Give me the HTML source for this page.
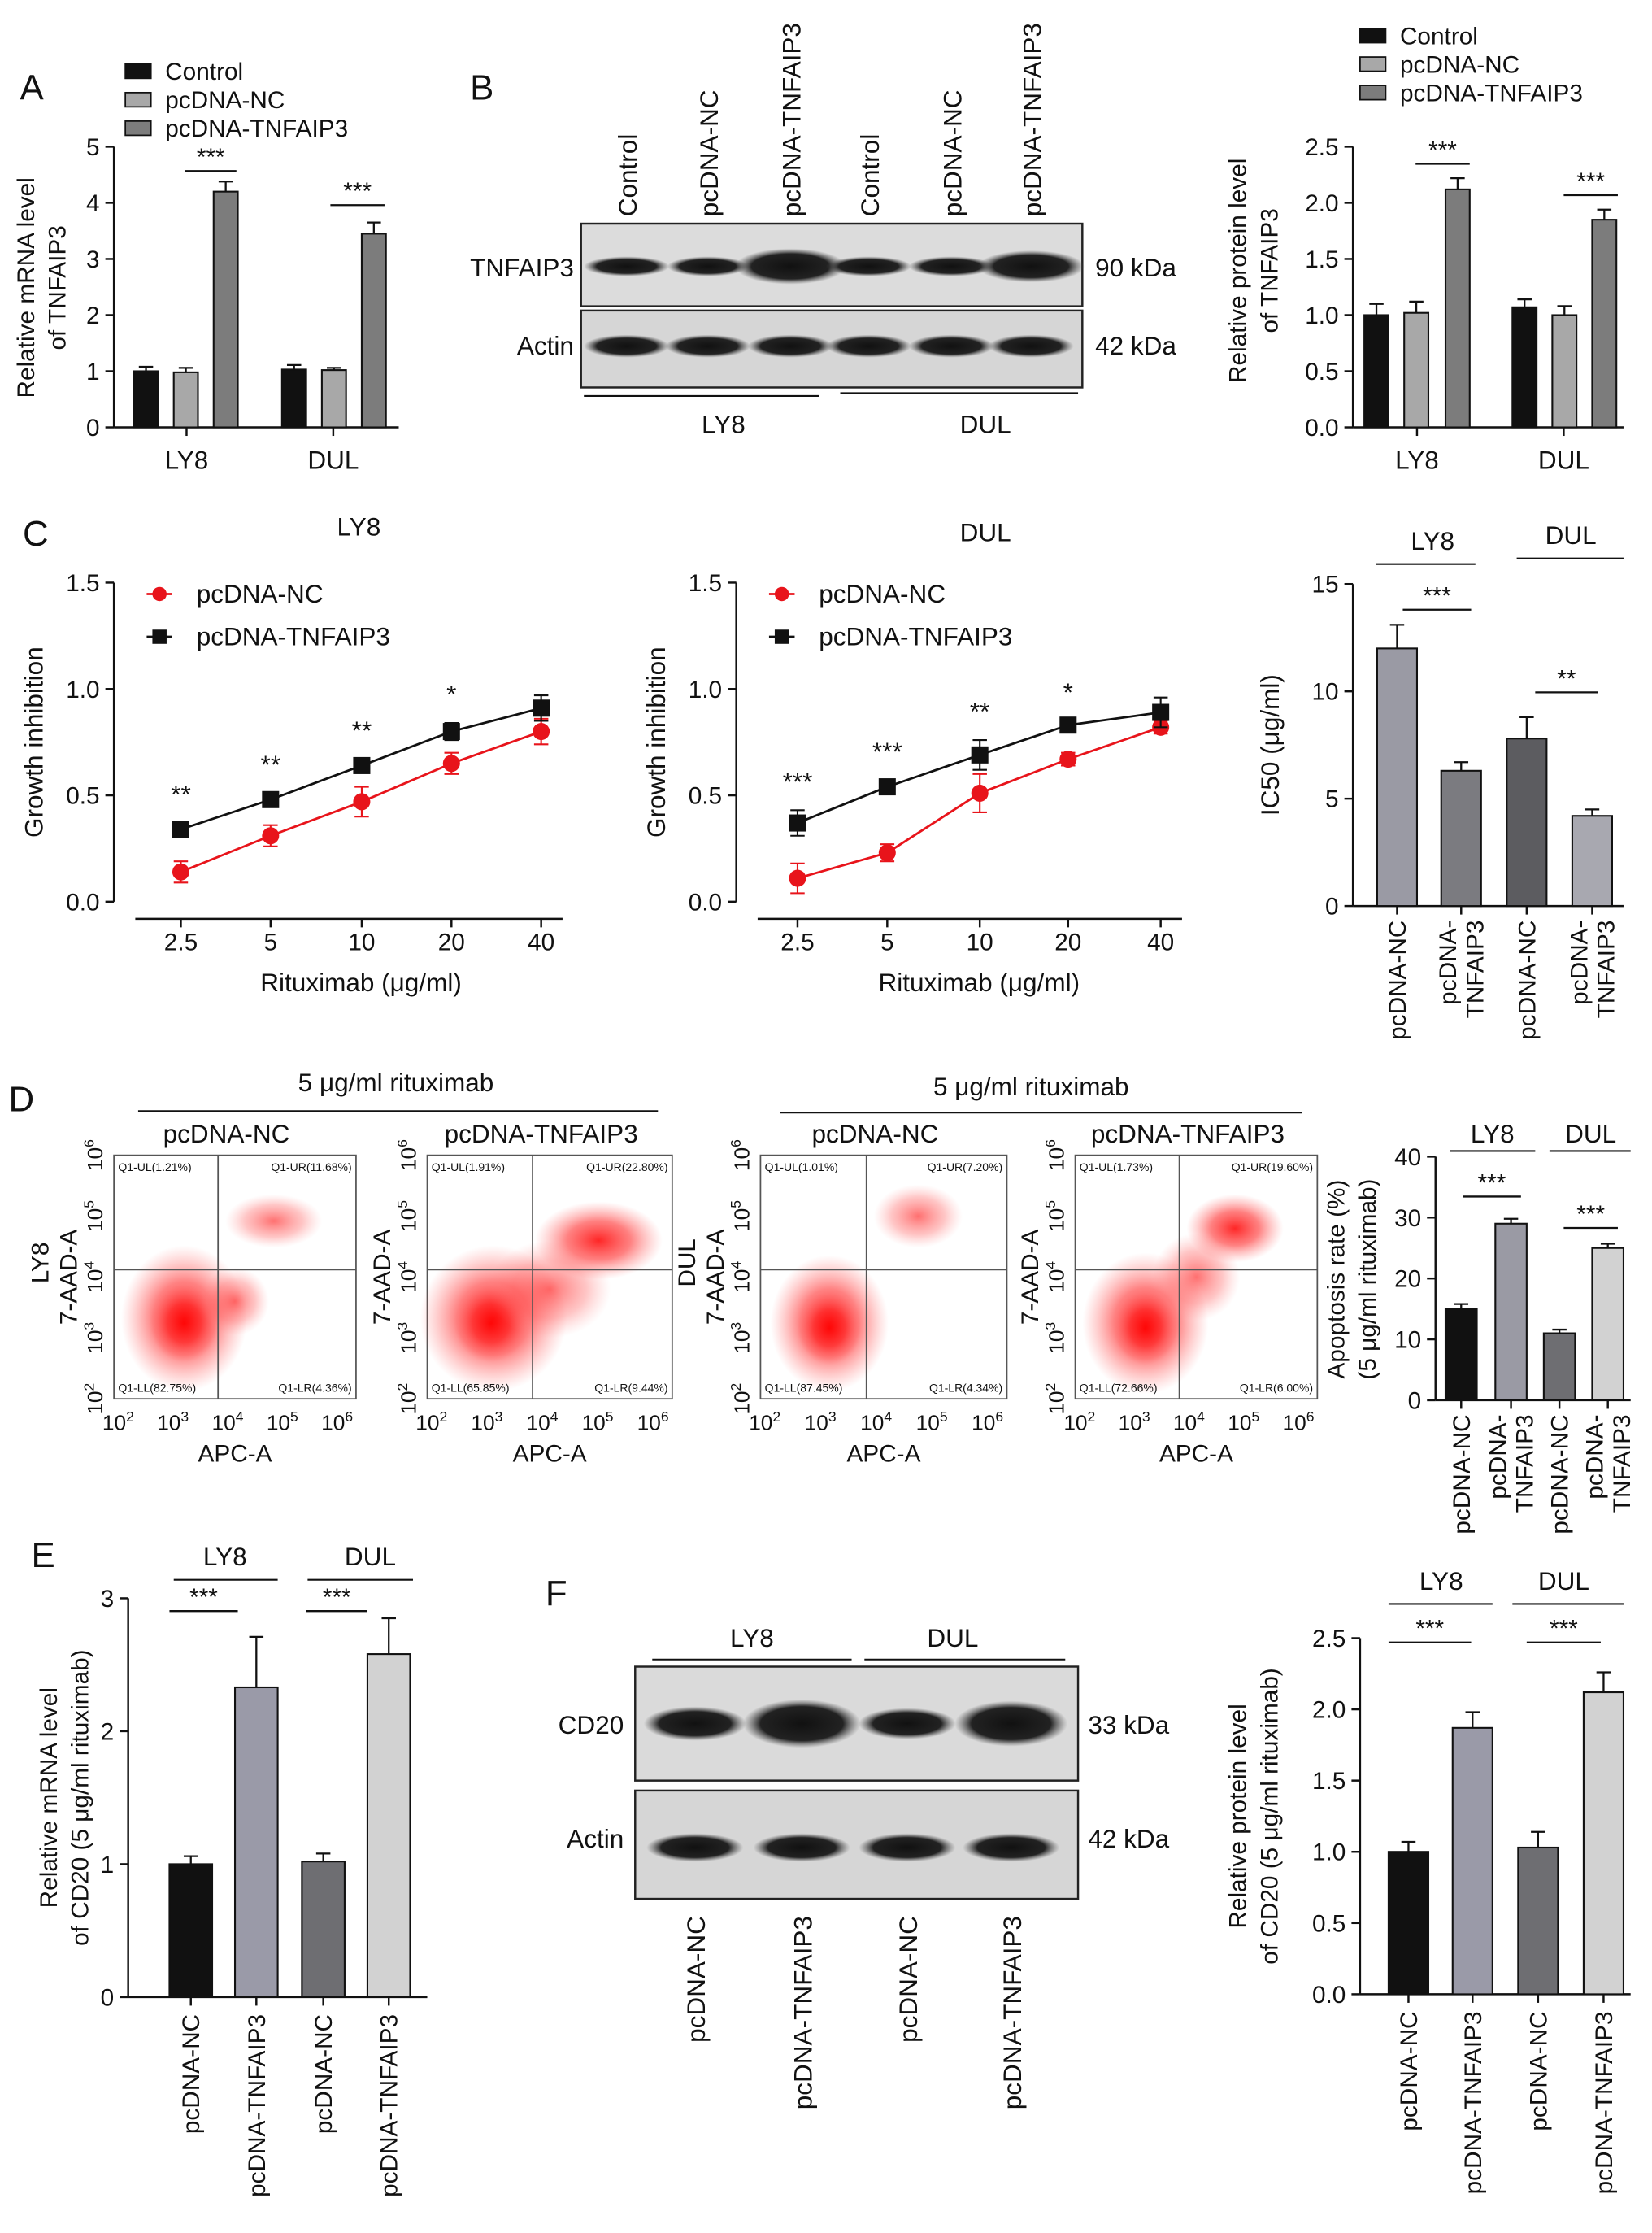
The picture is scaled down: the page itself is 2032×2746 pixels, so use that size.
<!DOCTYPE html>
<html><head><meta charset="utf-8"><style>
html,body{margin:0;padding:0;background:#fff}
svg{display:block;font-family:"Liberation Sans",sans-serif}
</style></head><body>
<svg id="fig" xmlns="http://www.w3.org/2000/svg" width="2032" height="2746" viewBox="0 0 1160 1567.6">
<defs>
<radialGradient id="rg" cx="0.5" cy="0.5" r="0.5"><stop offset="0" stop-color="#ff0000" stop-opacity="0.85"/><stop offset="0.5" stop-color="#ff1a1a" stop-opacity="0.55"/><stop offset="1" stop-color="#ff6060" stop-opacity="0"/></radialGradient>
<radialGradient id="rg2" cx="0.5" cy="0.5" r="0.5"><stop offset="0" stop-color="#ff1010" stop-opacity="0.6"/><stop offset="0.6" stop-color="#ff4040" stop-opacity="0.3"/><stop offset="1" stop-color="#ff8080" stop-opacity="0"/></radialGradient>
<radialGradient id="band" cx="0.5" cy="0.5" r="0.5"><stop offset="0" stop-color="#111"/><stop offset="0.7" stop-color="#222"/><stop offset="1" stop-color="#555" stop-opacity="0"/></radialGradient>
</defs>
</svg>
<script>
// ---- data ----
const aCats=['LY8','DUL'];
const aSeries=['Control','pcDNA-NC','pcDNA-TNFAIP3'];
const aVals=[1.0,0.98,4.2,1.03,1.02,3.45];
const aErr=[0.08,0.08,0.18,0.08,0.04,0.2];
const aTicks=[0,1,2,3,4,5];
const bVals=[1.0,1.02,2.12,1.07,1.0,1.85];
const bErr=[0.1,0.1,0.1,0.07,0.08,0.09];
const bTicks=[0,0.5,1.0,1.5,2.0,2.5];
const cDoses=['2.5','5','10','20','40'];
const cLy8NC=[0.14,0.31,0.47,0.65,0.80];
const cLy8NCerr=[0.05,0.05,0.07,0.05,0.06];
const cLy8TN=[0.34,0.48,0.64,0.80,0.91];
const cLy8TNerr=[0.03,0.03,0.03,0.04,0.06];
const cLy8Sig=['**','**','**','*',''];
const cDulNC=[0.11,0.23,0.51,0.67,0.82];
const cDulNCerr=[0.07,0.04,0.09,0.03,0.03];
const cDulTN=[0.37,0.54,0.69,0.83,0.89];
const cDulTNerr=[0.06,0.03,0.07,0.02,0.07];
const cDulSig=['***','***','**','*',''];
const cTicks=[0,0.5,1.0,1.5];
const icVals=[12.0,6.3,7.8,4.2];
const icErr=[1.1,0.4,1.0,0.3];
const icTicks=[0,5,10,15];
const dVals=[15,29,11,25];
const dErr=[0.8,0.8,0.6,0.7];
const dTicks=[0,10,20,30,40];
const dQuads=[['1.21%','11.68%','82.75%','4.36%'],['1.91%','22.80%','65.85%','9.44%'],['1.01%','7.20%','87.45%','4.34%'],['1.73%','19.60%','72.66%','6.00%']];
const eVals=[1.0,2.33,1.02,2.58];
const eErr=[0.06,0.38,0.06,0.27];
const eTicks=[0,1,2,3];
const fVals=[1.0,1.87,1.03,2.12];
const fErr=[0.07,0.11,0.11,0.14];
const fTicks=[0,0.5,1.0,1.5,2.0,2.5];

// ---- helpers ----
const NS='http://www.w3.org/2000/svg';
const S=document.getElementById('fig');
function E(tag,at,name,par){
 const el=document.createElementNS(NS,tag);
 for(const k in at)el.setAttribute(k,at[k]);
 
 
 (par||S).appendChild(el);return el;}
function T(x,y,txt,size,name,anchor,rot,extra){
 const at={x:x,y:y,'font-size':size,'text-anchor':anchor||'middle',fill:'#111'};
 if(rot)at.transform='rotate('+rot+' '+x+' '+y+')';
 Object.assign(at,extra||{});
 const el=E('text',at,name);el.textContent=txt;return el;}
function L(x1,y1,x2,y2,name,w,c){return E('line',{x1:x1,y1:y1,x2:x2,y2:y2,stroke:c||'#111','stroke-width':w||1.4},name);}
function fmt(v,d){return d?v.toFixed(d):String(v);}
function yAxis(ax,y0,yTop,max,ticks,dec,name){
 L(ax,y0,ax,yTop,name+'-y-axis');
 ticks.forEach(t=>{const y=y0-(t/max)*(y0-yTop);L(ax-6,y,ax,y,name+'-y-tick');T(ax-10,y+6,fmt(t,dec),17,name+'-y-tick-label','end');});
 return v=>y0-(v/max)*(y0-yTop);}
function errBar(x,yv,ye,name){L(x,yv,x,ye,name+'-error-bar',1.3);L(x-5,ye,x+5,ye,name+'-error-cap',1.3);}
function bar(x,w,y0,sy,v,e,fill,name){
 E('rect',{x:x,y:sy(v),width:w,height:y0-sy(v),fill:fill,stroke:'#111','stroke-width':1.2},name);
 errBar(x+w/2,sy(v),sy(v+e),name);}
function sig(x1,x2,y,txt,name){L(x1,y,x2,y,name+'-line',1.3);T((x1+x2)/2,y-4,txt,17,name+'-stars');}
function letter(x,y,t){T(x,y,t,25,'panel-label-'+t.toLowerCase(),'start');}
function legendSq(x,y,fill,txt,name){E('rect',{x:x,y:y-11,width:18,height:10,fill:fill,stroke:'#111','stroke-width':1},name+'-swatch');T(x+28,y,txt,17,name,'start');}
function rotLabel(x,y,lines,name){lines.forEach((s,i)=>T(x+6+(i-(lines.length-1)/2)*19,y,s,17,name,'end',-90));}

// ---- Panel A ----
letter(14,70,'A');
(function(){const y0=300,top=103,ax=80;const sy=yAxis(ax,y0,top,5,aTicks,0,'panel-a');
 L(ax,y0,280,y0,'panel-a-x-axis');
 const cols=['#111','#a8a8a8','#7c7c7c'];const xs=[94,122,150,198,226,254];
 aVals.forEach((v,i)=>bar(xs[i],17,y0,sy,v,aErr[i],cols[i%3],'panel-a-bar-'+aCats[Math.floor(i/3)].toLowerCase()+'-'+(i%3)));
 aCats.forEach((c,i)=>{const cx=[131,234][i];L(cx,y0,cx,y0+6,'panel-a-x-tick');T(cx,y0+29,c,18,'panel-a-x-label');});
 sig(130,166,120,'***','panel-a-sig-ly8');sig(232,270,144,'***','panel-a-sig-dul');
 aSeries.forEach((s,i)=>legendSq(88,56+i*20,cols[i],s,'panel-a-legend-entry'));
 T(24,202,'Relative mRNA level',17,'panel-a-y-title','middle',-90);T(46,202,'of TNFAIP3',17,'panel-a-y-title','middle',-90);
})();

// ---- Panel B blot ----
letter(330,70,'B');
(function(){
 const lanes=[440,497,555,610,668,724],lab=['Control','pcDNA-NC','pcDNA-TNFAIP3','Control','pcDNA-NC','pcDNA-TNFAIP3'];
 lanes.forEach((x,i)=>T(x+7,152,lab[i],18,'panel-b-lane-label','start',-90));
 E('rect',{x:408,y:157,width:352,height:58,fill:'#dcdcdc',stroke:'#222','stroke-width':1.4},'panel-b-tnfaip3-blot');
 E('rect',{x:408,y:218,width:352,height:54,fill:'#d6d6d6',stroke:'#222','stroke-width':1.4},'panel-b-actin-blot');
 const tw=[1,0.95,1.3,1,1,1.25],th=[1,1,1.8,1,1,1.6];
 lanes.forEach((x,i)=>{E('ellipse',{cx:x,cy:187,rx:30*tw[i],ry:7*th[i],fill:'url(#band)'},'panel-b-tnfaip3-band');E('ellipse',{cx:x,cy:243,rx:30,ry:8,fill:'url(#band)'},'panel-b-actin-band');});
 T(403,194,'TNFAIP3',18,'panel-b-tnfaip3-label','end');T(403,249,'Actin',18,'panel-b-actin-label','end');
 T(769,194,'90 kDa',18,'panel-b-90kda','start');T(769,249,'42 kDa',18,'panel-b-42kda','start');
 L(410,278,575,278,'panel-b-ly8-line',1.2);L(590,276,757,276,'panel-b-dul-line',1.2);
 T(508,304,'LY8',18,'panel-b-ly8-label');T(692,304,'DUL',18,'panel-b-dul-label');
})();
(function(){const y0=300,top=103,ax=950;const sy=yAxis(ax,y0,top,2.5,bTicks,1,'panel-b');
 L(ax,y0,1140,y0,'panel-b-x-axis');
 const cols=['#111','#a8a8a8','#7c7c7c'];const xs=[958,986,1015,1062,1090,1118];
 bVals.forEach((v,i)=>bar(xs[i],17,y0,sy,v,bErr[i],cols[i%3],'panel-b-bar-'+i));
 aCats.forEach((c,i)=>{const cx=[995,1098][i];L(cx,y0,cx,y0+6,'panel-b-x-tick');T(cx,y0+29,c,18,'panel-b-x-label');});
 sig(994,1032,115,'***','panel-b-sig-ly8');sig(1098,1136,137,'***','panel-b-sig-dul');
 aSeries.forEach((s,i)=>legendSq(955,31+i*20,cols[i],s,'panel-b-legend-entry'));
 T(875,190,'Relative protein level',17,'panel-b-y-title','middle',-90);T(897,190,'of TNFAIP3',17,'panel-b-y-title','middle',-90);
})();

// ---- Panel C line charts ----
letter(16,383,'C');
function lineChart(ax,xs,nc,ncE,tn,tnE,sigs,title,tx,ty,name){
 const y0=633,top=409;const sy=yAxis(ax,y0,top,1.5,cTicks,1,name);
 L(ax+15,645,xs[4]+15,645,name+'-x-axis');
 cDoses.forEach((d,i)=>{L(xs[i],645,xs[i],651,name+'-x-tick');T(xs[i],667,d,17,name+'-x-tick-label');});
 T((xs[0]+xs[4])/2,696,'Rituximab (μg/ml)',18,name+'-x-title');
 T(ax-50,521,'Growth inhibition',18,name+'-y-title','middle',-90);
 T(tx,ty,title,18,name+'-title');
 [[nc,ncE,'#e8141b','circle'],[tn,tnE,'#111','square']].forEach(([vals,err,c,shape],si)=>{
  const pts=vals.map((v,i)=>xs[i]+','+sy(v)).join(' ');
  E('polyline',{points:pts,fill:'none',stroke:c,'stroke-width':1.6},name+'-series-line-'+si);
  vals.forEach((v,i)=>{L(xs[i],sy(v-err[i]),xs[i],sy(v+err[i]),name+'-error-bar',1.2,c);
   L(xs[i]-5,sy(v+err[i]),xs[i]+5,sy(v+err[i]),name+'-error-cap',1.2,c);L(xs[i]-5,sy(v-err[i]),xs[i]+5,sy(v-err[i]),name+'-error-cap',1.2,c);
   if(shape==='circle')E('circle',{cx:xs[i],cy:sy(v),r:6,fill:c},name+'-point-nc');
   else E('rect',{x:xs[i]-6,y:sy(v)-6,width:12,height:12,fill:c},name+'-point-tnfaip3');});
 });
 sigs.forEach((s,i)=>{if(s)T(xs[i],sy(Math.max(tn[i]+tnE[i],nc[i]))-14,s,18,name+'-sig-stars');});
 const lx=ax+23;
 L(lx,417,lx+18,417,name+'-legend-line',1.6,'#e8141b');E('circle',{cx:lx+9,cy:417,r:5,fill:'#e8141b'},name+'-legend-marker');T(lx+35,423,'pcDNA-NC',18,name+'-legend-entry','start');
 L(lx,447,lx+18,447,name+'-legend-line',1.6,'#111');E('rect',{x:lx+4,y:442,width:10,height:10,fill:'#111'},name+'-legend-marker');T(lx+35,453,'pcDNA-TNFAIP3',18,name+'-legend-entry','start');
}
lineChart(80,[127,190,254,317,380],cLy8NC,cLy8NCerr,cLy8TN,cLy8TNerr,cLy8Sig,'LY8',252,376,'panel-c-ly8');
lineChart(517,[560,623,688,750,815],cDulNC,cDulNCerr,cDulTN,cDulTNerr,cDulSig,'DUL',692,380,'panel-c-dul');
(function(){const y0=636,top=410,ax=950;const sy=yAxis(ax,y0,top,15,icTicks,0,'panel-c-ic50');
 L(ax,y0,1140,y0,'panel-c-ic50-x-axis');
 const xs=[967,1012,1058,1104],cols=['#9a9aa4','#7b7b80','#5c5c60','#a8a8b0'];
 icVals.forEach((v,i)=>bar(xs[i],28,y0,sy,v,icErr[i],cols[i],'panel-c-ic50-bar-'+i));
 const labs=[['pcDNA-NC'],['pcDNA-','TNFAIP3'],['pcDNA-NC'],['pcDNA-','TNFAIP3']];
 xs.forEach((x,i)=>{L(x+14,y0,x+14,y0+6,'panel-c-ic50-x-tick');rotLabel(x+14,y0+10,labs[i],'panel-c-ic50-x-label');});
 T(1006,386,'LY8',18,'panel-c-ic50-ly8-label');L(966,396,1036,396,'panel-c-ic50-ly8-line',1.2);
 T(1103,382,'DUL',18,'panel-c-ic50-dul-label');L(1065,392,1140,392,'panel-c-ic50-dul-line',1.2);
 sig(985,1033,428,'***','panel-c-ic50-sig-ly8');sig(1078,1122,486,'**','panel-c-ic50-sig-dul');
 T(898,523,'IC50 (μg/ml)',18,'panel-c-ic50-y-title','middle',-90);
})();

// ---- Panel D flow ----
letter(6,780,'D');
T(278,766,'5 μg/ml rituximab',18,'panel-d-ly8-title');L(97,780,462,780,'panel-d-ly8-line',1.3);
T(724,769,'5 μg/ml rituximab',18,'panel-d-dul-title');L(548,781,914,781,'panel-d-dul-line',1.3);
function flow(x0,w,q,title,cell,clouds,name){
 const y0=811,h=171;
 T(x0+w/2-6,802,title,18,name+'-title');
 E('rect',{x:x0,y:y0,width:w,height:h,fill:'#fff',stroke:'#555','stroke-width':1},name+'-box');
 clouds.forEach(c=>E('ellipse',{cx:x0+c[0]*w,cy:y0+c[1]*h,rx:c[2]*w,ry:c[3]*h,fill:c[4]?'url(#rg2)':'url(#rg)'},name+'-cell-cloud'));
 const qx=x0+0.43*w,qy=y0+0.47*h;
 L(qx,y0,qx,y0+h,name+'-gate-v',1,'#555');L(x0,qy,x0+w,qy,name+'-gate-h',1,'#555');
 T(x0+3,y0+11,'Q1-UL('+q[0]+')',8,name+'-q-ul','start');T(x0+w-3,y0+11,'Q1-UR('+q[1]+')',8,name+'-q-ur','end');
 T(x0+3,y0+h-5,'Q1-LL('+q[2]+')',8,name+'-q-ll','start');T(x0+w-3,y0+h-5,'Q1-LR('+q[3]+')',8,name+'-q-lr','end');
 for(let i=0;i<5;i++){const x=x0+3+i*0.226*w;const t=T(x,y0+h+22,'10',15,name+'-x-tick-label');const s=document.createElementNS(NS,'tspan');s.setAttribute('dy','-6');s.setAttribute('font-size','10');s.textContent=String(i+2);t.appendChild(s);
  const y=y0+h-i*h/4;const t2=T(x0-8,y,'10',15,name+'-y-tick-label','middle',-90);const s2=document.createElementNS(NS,'tspan');s2.setAttribute('dy','-6');s2.setAttribute('font-size','10');s2.textContent=String(i+2);t2.appendChild(s2);}
 T(x0+w/2,y0+h+44,'APC-A',17,name+'-x-title');
 T(x0-26,y0+h/2,'7-AAD-A',17,name+'-y-title','middle',-90);
 if(cell)T(x0-46,y0+h/2-10,cell,17,name+'-cell-label','middle',-90);
}
flow(80,170,dQuads[0],'pcDNA-NC','LY8',[[0.29,0.67,0.26,0.3],[0.29,0.69,0.14,0.16],[0.66,0.27,0.2,0.11,1],[0.5,0.6,0.14,0.14,1]],'panel-d-ly8-nc');
flow(300,172,dQuads[1],'pcDNA-TNFAIP3',null,[[0.27,0.67,0.3,0.3],[0.26,0.69,0.15,0.16],[0.7,0.35,0.26,0.16],[0.5,0.55,0.25,0.2,1]],'panel-d-ly8-tn');
flow(534,173,dQuads[2],'pcDNA-NC','DUL',[[0.28,0.69,0.24,0.28],[0.28,0.71,0.13,0.15],[0.64,0.25,0.18,0.13,1]],'panel-d-dul-nc');
flow(755,170,dQuads[3],'pcDNA-TNFAIP3',null,[[0.29,0.69,0.26,0.29],[0.29,0.71,0.13,0.15],[0.66,0.3,0.2,0.14],[0.5,0.5,0.18,0.18,1]],'panel-d-dul-tn');
(function(){const y0=983,top=812,ax=1008;const sy=yAxis(ax,y0,top,40,dTicks,0,'panel-d-apoptosis');
 L(ax,y0,1145,y0,'panel-d-apoptosis-x-axis');
 const xs=[1015,1050,1084,1118],cols=['#111','#9a9aa4','#6e6e72','#d2d2d2'];
 dVals.forEach((v,i)=>bar(xs[i],22,y0,sy,v,dErr[i],cols[i],'panel-d-apoptosis-bar-'+i));
 const labs=[['pcDNA-NC'],['pcDNA-','TNFAIP3'],['pcDNA-NC'],['pcDNA-','TNFAIP3']];
 xs.forEach((x,i)=>{L(x+11,y0,x+11,y0+6,'panel-d-apoptosis-x-tick');rotLabel(x+11,y0+10,labs[i],'panel-d-apoptosis-x-label');});
 T(1048,802,'LY8',18,'panel-d-ly8-group');L(1018,808,1078,808,'panel-d-ly8-group-line',1.2);
 T(1117,802,'DUL',18,'panel-d-dul-group');L(1088,808,1145,808,'panel-d-dul-group-line',1.2);
 sig(1027,1068,840,'***','panel-d-sig-ly8');sig(1098,1136,862,'***','panel-d-sig-dul');
 T(944,898,'Apoptosis rate (%)',17,'panel-d-y-title','middle',-90);T(966,898,'(5 μg/ml rituximab)',17,'panel-d-y-title','middle',-90);
})();

// ---- Panel E ----
letter(22,1100,'E');
(function(){const y0=1402,top=1122,ax=90;const sy=yAxis(ax,y0,top,3,eTicks,0,'panel-e');
 L(ax,y0,300,y0,'panel-e-x-axis');
 const xs=[119,165,212,258],cols=['#111','#9a9aa8','#6e6e72','#d2d2d2'];
 eVals.forEach((v,i)=>bar(xs[i],30,y0,sy,v,eErr[i],cols[i],'panel-e-bar-'+i));
 const labs=['pcDNA-NC','pcDNA-TNFAIP3','pcDNA-NC','pcDNA-TNFAIP3'];
 xs.forEach((x,i)=>{L(x+15,y0,x+15,y0+6,'panel-e-x-tick');rotLabel(x+15,y0+12,[labs[i]],'panel-e-x-label');});
 T(158,1099,'LY8',18,'panel-e-ly8-group');L(122,1109,195,1109,'panel-e-ly8-line',1.2);
 T(260,1099,'DUL',18,'panel-e-dul-group');L(216,1109,290,1109,'panel-e-dul-line',1.2);
 sig(119,167,1131,'***','panel-e-sig-ly8');sig(215,258,1131,'***','panel-e-sig-dul');
 T(40,1262,'Relative mRNA level',17,'panel-e-y-title','middle',-90);T(62,1262,'of CD20 (5 μg/ml rituximab)',17,'panel-e-y-title','middle',-90);
})();

// ---- Panel F blot ----
letter(383,1127,'F');
(function(){
 const lanes=[488,563,637,710],lab=['pcDNA-NC','pcDNA-TNFAIP3','pcDNA-NC','pcDNA-TNFAIP3'];
 T(528,1156,'LY8',18,'panel-f-ly8-label');L(458,1165,598,1165,'panel-f-ly8-line',1.2);
 T(669,1156,'DUL',18,'panel-f-dul-label');L(607,1165,748,1165,'panel-f-dul-line',1.2);
 E('rect',{x:446,y:1170,width:311,height:80,fill:'#dadada',stroke:'#222','stroke-width':1.4},'panel-f-cd20-blot');
 E('rect',{x:446,y:1257,width:311,height:76,fill:'#d6d6d6',stroke:'#222','stroke-width':1.4},'panel-f-actin-blot');
 const cw=[1,1.15,0.95,1.1],ch=[1.2,1.7,1.1,1.6];
 lanes.forEach((x,i)=>{E('ellipse',{cx:x,cy:1210,rx:36*cw[i],ry:10*ch[i],fill:'url(#band)'},'panel-f-cd20-band');E('ellipse',{cx:x,cy:1297,rx:34,ry:10,fill:'url(#band)'},'panel-f-actin-band');
  T(x+7,1345,lab[i],18,'panel-f-lane-label','end',-90);});
 T(438,1217,'CD20',18,'panel-f-cd20-label','end');T(438,1297,'Actin',18,'panel-f-actin-label','end');
 T(764,1217,'33 kDa',18,'panel-f-33kda','start');T(764,1297,'42 kDa',18,'panel-f-42kda','start');
})();
(function(){const y0=1400,top=1150,ax=955;const sy=yAxis(ax,y0,top,2.5,fTicks,1,'panel-f');
 L(ax,y0,1145,y0,'panel-f-x-axis');
 const xs=[975,1020,1066,1112],cols=['#111','#9a9aa8','#6e6e72','#d2d2d2'];
 fVals.forEach((v,i)=>bar(xs[i],28,y0,sy,v,fErr[i],cols[i],'panel-f-bar-'+i));
 const labs=['pcDNA-NC','pcDNA-TNFAIP3','pcDNA-NC','pcDNA-TNFAIP3'];
 xs.forEach((x,i)=>{L(x+14,y0,x+14,y0+6,'panel-f-x-tick');rotLabel(x+14,y0+12,[labs[i]],'panel-f-x-label');});
 T(1012,1116,'LY8',18,'panel-f-ly8-group');L(975,1126,1048,1126,'panel-f-ly8-line',1.2);
 T(1098,1116,'DUL',18,'panel-f-dul-group');L(1062,1126,1140,1126,'panel-f-dul-line',1.2);
 sig(975,1033,1153,'***','panel-f-sig-ly8');sig(1072,1124,1153,'***','panel-f-sig-dul');
 T(875,1275,'Relative protein level',17,'panel-f-y-title','middle',-90);T(897,1275,'of CD20 (5 μg/ml rituximab)',17,'panel-f-y-title','middle',-90);
})();
</script>
</body></html>
